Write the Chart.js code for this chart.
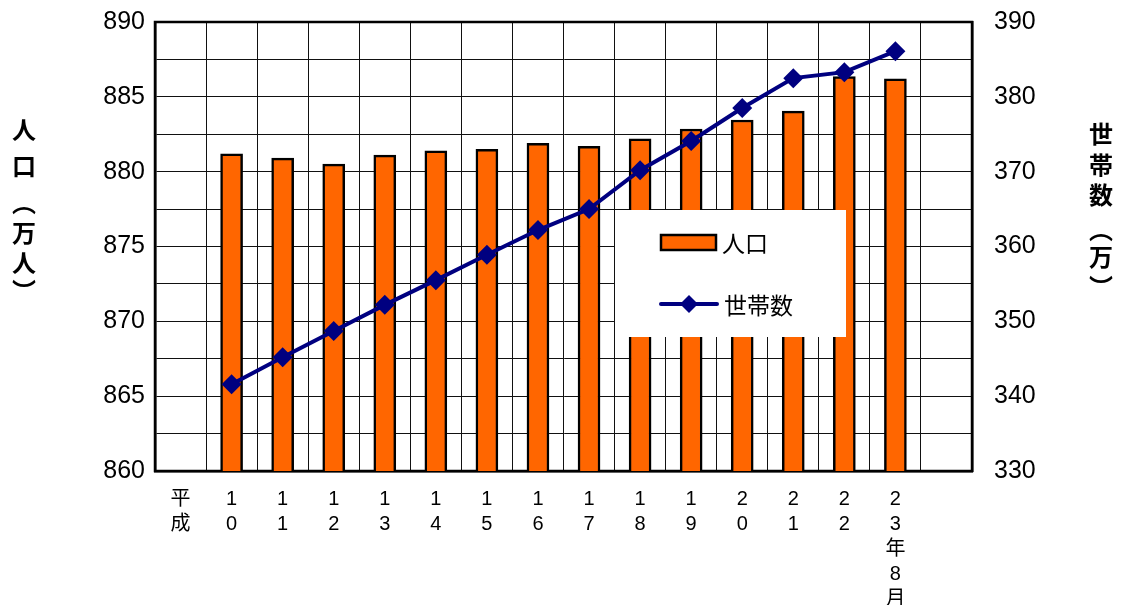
<!DOCTYPE html>
<html>
<head>
<meta charset="utf-8">
<script src="https://cdn.jsdelivr.net/npm/chart.js@4/dist/chart.umd.min.js"></script>
<style>
  body { margin: 0; background: #fff; }
  #wrap { width: 1122px; height: 605px; position: relative; }
</style>
</head>
<body>
<div id="wrap"><canvas id="c"></canvas></div>
<script>
//categories (first one is just the era name, last one is empty space)
const years = [
  ["平", "成"], ["1", "0"], ["1", "1"], ["1", "2"], ["1", "3"], ["1", "4"],
  ["1", "5"], ["1", "6"], ["1", "7"], ["1", "8"], ["1", "9"], ["2", "0"],
  ["2", "1"], ["2", "2"], ["2", "3", "年", "8", "月"], ""
];

//population, 万人
const population = [null, 881.2, 880.9, 880.5, 881.1, 881.4, 881.5, 881.9,
  881.7, 882.2, 882.85, 883.45, 884.05, 886.35, 886.2, null];

//households, 万
const households = [null, 341.6, 345.2, 348.7, 352.2, 355.5, 358.9, 362.2,
  365.0, 370.2, 374.1, 378.5, 382.5, 383.3, 386.1, null];

const popTicks = [860, 865, 870, 875, 880, 885, 890];
const hhTicks = [330, 340, 350, 360, 370, 380, 390];

const leftTitle = ["人", "口", "︵", "万", "人", "︶"];
const rightTitle = ["世", "帯", "数", "︵", "万", "︶"];

const numFont = "'Liberation Sans', 'Noto Sans CJK JP', sans-serif";
const jpFont = "'Noto Sans CJK JP', sans-serif";

//frame round the plot area
const framePlugin = {
  id: "frame",
  beforeDatasetsDraw(chart) {
    const a = chart.chartArea;
    const ctx = chart.ctx;
    ctx.save();
    ctx.strokeStyle = "#000";
    ctx.lineWidth = 2.5;
    ctx.strokeRect(a.left, a.top, a.right - a.left, a.bottom - a.top);
    ctx.restore();
  }
};

//stacked vertical axis titles
const titlePlugin = {
  id: "titles",
  afterDraw(chart) {
    const ctx = chart.ctx;
    ctx.save();
    ctx.fillStyle = "#000";
    ctx.font = "bold 24px " + jpFont;
    ctx.textAlign = "center";
    ctx.textBaseline = "middle";
    const ly = [130, 166, 203, 233, 263, 291];
    leftTitle.forEach((ch, i) => ctx.fillText(ch, 24, ly[i]));
    const ry = [134, 165, 195, 230, 257, 287];
    rightTitle.forEach((ch, i) => ctx.fillText(ch, 1101, ry[i]));
    ctx.restore();
  }
};

//white legend box inside the plot
const legendPlugin = {
  id: "boxLegend",
  afterDatasetsDraw(chart) {
    const ctx = chart.ctx;
    const bar = chart.data.datasets[0];
    const line = chart.data.datasets[1];
    ctx.save();
    ctx.fillStyle = "#fff";
    ctx.fillRect(615, 210, 231, 127);

    //bar item
    ctx.fillStyle = bar.backgroundColor;
    ctx.strokeStyle = "#000";
    ctx.lineWidth = 2.5;
    ctx.fillRect(661, 235, 55, 15);
    ctx.strokeRect(661, 235, 55, 15);

    //line item
    ctx.strokeStyle = line.borderColor;
    ctx.lineWidth = 4;
    ctx.lineCap = "round";
    ctx.beginPath();
    ctx.moveTo(661, 304);
    ctx.lineTo(717, 304);
    ctx.stroke();
    ctx.fillStyle = line.borderColor;
    ctx.beginPath();
    ctx.moveTo(689, 295);
    ctx.lineTo(698, 304);
    ctx.lineTo(689, 313);
    ctx.lineTo(680, 304);
    ctx.closePath();
    ctx.fill();

    ctx.fillStyle = "#000";
    ctx.font = "23px " + jpFont;
    ctx.textAlign = "left";
    ctx.textBaseline = "middle";
    ctx.fillText(bar.label, 722, 243);
    ctx.fillText(line.label, 724, 305);
    ctx.restore();
  }
};

//fixed scale sizes, no extra padding for half tick labels
function fixWidth(w) {
  return (s) => {
    s.width = w;
    s.paddingTop = 0;
    s.paddingBottom = 0;
  };
}

new Chart(document.getElementById("c"), {
  type: "bar",
  data: {
    labels: years,
    datasets: [
      {
        label: "人口",
        data: population,
        yAxisID: "y",
        backgroundColor: "#ff6600",
        borderColor: "#000",
        borderWidth: 2.5,
        borderSkipped: "bottom",
        barThickness: 22,
        order: 2
      },
      {
        label: "世帯数",
        type: "line",
        data: households,
        yAxisID: "y1",
        borderColor: "#000080",
        backgroundColor: "#000080",
        borderWidth: 4,
        pointStyle: "rectRot",
        pointRadius: 10,
        pointBorderWidth: 0,
        tension: 0,
        order: 1
      }
    ]
  },
  options: {
    responsive: true,
    maintainAspectRatio: false,
    animation: false,
    layout: { padding: { top: 22, right: 0, bottom: 0, left: 0 } },
    plugins: {
      legend: { display: false },
      tooltip: { enabled: false }
    },
    scales: {
      x: {
        grid: { color: "#111", lineWidth: 1, drawTicks: false, offset: true },
        border: { color: "#000", width: 2.5 },
        ticks: {
          color: "#000",
          padding: 16,
          maxRotation: 0,
          autoSkip: false,
          font: { family: numFont, size: 20, lineHeight: 1.25 }
        },
        afterFit: (s) => {
          s.height = 134;
          s.paddingLeft = 0;
          s.paddingRight = 0;
        }
      },
      y: {
        position: "left",
        min: popTicks[0],
        max: popTicks[popTicks.length - 1],
        ticks: {
          stepSize: 2.5,
          color: "#000",
          padding: 10,
          font: { family: numFont, size: 25 },
          callback: (v) => (popTicks.includes(v) ? v : "")
        },
        grid: { color: "#111", lineWidth: 1, drawTicks: false },
        border: { color: "#000", width: 2.5 },
        afterFit: fixWidth(155)
      },
      y1: {
        position: "right",
        min: hhTicks[0],
        max: hhTicks[hhTicks.length - 1],
        ticks: {
          stepSize: 10,
          color: "#000",
          padding: 22,
          font: { family: numFont, size: 25 }
        },
        grid: { drawOnChartArea: false, drawTicks: false },
        border: { color: "#000", width: 2.5 },
        afterFit: fixWidth(150)
      }
    }
  },
  plugins: [framePlugin, titlePlugin, legendPlugin]
});
</script>
</body>
</html>
